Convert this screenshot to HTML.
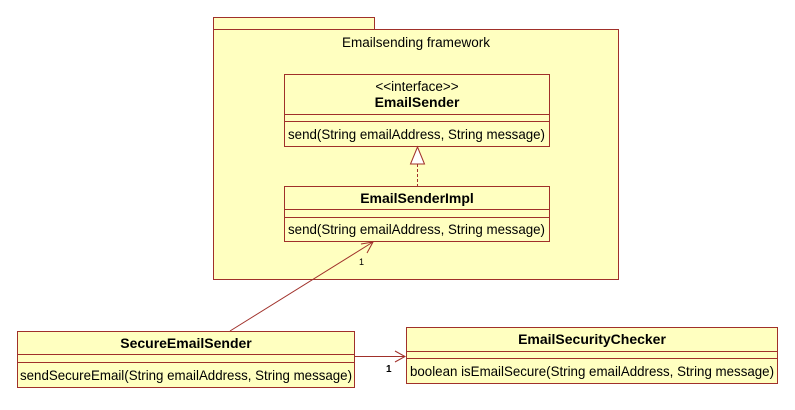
<!DOCTYPE html>
<html><head><meta charset="utf-8"><style>html,body{margin:0;padding:0;background:#fff}</style></head>
<body>
<svg width="795" height="405" xmlns="http://www.w3.org/2000/svg" font-family="Liberation Sans, sans-serif" font-size="13">
<g fill="#ffffc0" stroke="#a0302a" stroke-width="1">
<rect x="213.5" y="17.5" width="161" height="12"/>
<rect x="213.5" y="29.5" width="405" height="250"/>
<rect x="284.5" y="74.5" width="265" height="72"/>
<rect x="284.5" y="186.5" width="265" height="55"/>
<rect x="17.5" y="331.5" width="337" height="56"/>
<rect x="406.5" y="327.5" width="371" height="56"/>
</g>
<g stroke="#a0302a" stroke-width="1" fill="none">
<line x1="284" y1="114.5" x2="550" y2="114.5"/><line x1="284" y1="121.5" x2="550" y2="121.5"/>
<line x1="284" y1="209.5" x2="550" y2="209.5"/><line x1="284" y1="217.5" x2="550" y2="217.5"/>
<line x1="17" y1="354.5" x2="355" y2="354.5"/><line x1="17" y1="362.5" x2="355" y2="362.5"/>
<line x1="406" y1="351.5" x2="778" y2="351.5"/><line x1="406" y1="358.5" x2="778" y2="358.5"/>
<line x1="417.5" y1="164" x2="417.5" y2="186" stroke-dasharray="3,2"/>
<polygon points="417.5,147 410.5,164 424.5,164" fill="#fff"/>
<line x1="230" y1="331" x2="373" y2="242"/>
<polyline points="361,244 373,242 367,253"/>
<line x1="355" y1="356.5" x2="405" y2="356.5"/>
<polyline points="395,351 405,356.5 395,362"/>
</g>
<g fill="#000" text-anchor="middle">
<text x="416" y="47" font-size="13.5" textLength="148" lengthAdjust="spacingAndGlyphs">Emailsending framework</text>
<text x="417" y="91" font-size="13.5">&lt;&lt;interface&gt;&gt;</text>
<text x="417" y="107" font-weight="bold" font-size="14">EmailSender</text>
<text x="417" y="203" font-weight="bold" font-size="14">EmailSenderImpl</text>
<text x="186" y="348" font-weight="bold" font-size="14">SecureEmailSender</text>
<text x="592" y="344" font-weight="bold" font-size="14">EmailSecurityChecker</text>
</g>
<g fill="#000" font-size="14">
<text x="288" y="139" textLength="257" lengthAdjust="spacingAndGlyphs">send(String emailAddress, String message)</text>
<text x="288" y="234" textLength="257" lengthAdjust="spacingAndGlyphs">send(String emailAddress, String message)</text>
<text x="20" y="380" textLength="332" lengthAdjust="spacingAndGlyphs">sendSecureEmail(String emailAddress, String message)</text>
<text x="410" y="376" textLength="364" lengthAdjust="spacingAndGlyphs">boolean isEmailSecure(String emailAddress, String message)</text>
<text x="359" y="265" font-size="9">1</text>
<text x="386" y="372" font-size="10" font-weight="bold">1</text>
</g>
</svg>
</body></html>
